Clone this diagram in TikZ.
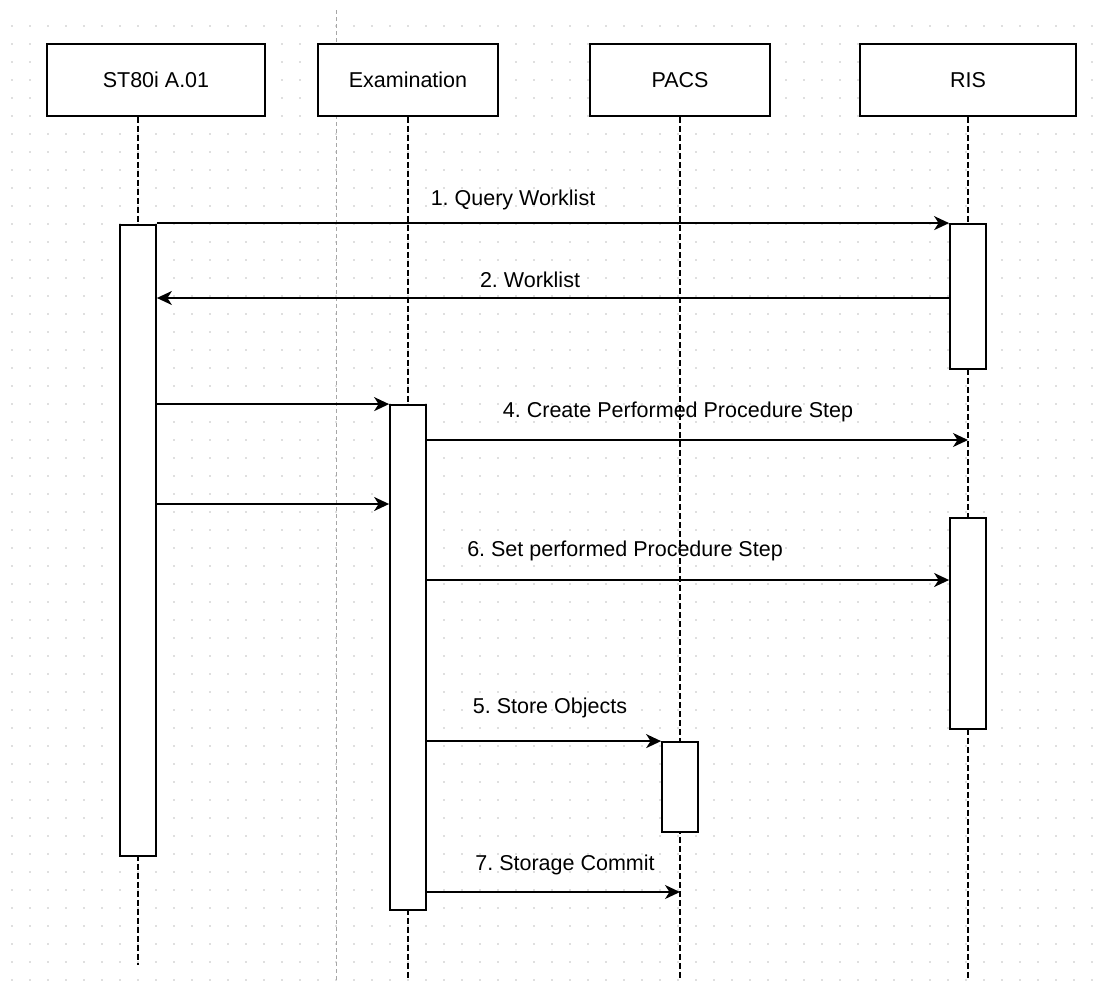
\documentclass[tikz,border=0pt]{standalone}
\usepackage{fontspec}
\setmainfont{Liberation Sans}
\usetikzlibrary{arrows.meta}
\pgfdeclarelayer{background}
\pgfsetlayers{background,main}
\tikzset{
  head/.style={draw, fill=white, line width=1.8pt, minimum height=72pt, inner sep=0pt, font=\fontsize{21.5}{25}\selectfont},
  bar/.style={draw, fill=white, line width=1.8pt, minimum width=36pt, inner sep=0pt},
  life/.style={line width=1.6pt, dash pattern=on 6pt off 3pt},
  msg/.style={line width=1.8pt, -{Stealth[length=15pt, width=14pt, inset=4.5pt]}},
  lbl/.style={font=\fontsize{21.5}{25}\selectfont, inner sep=0pt}
}
\frenchspacing

\begin{document}
\begin{tikzpicture}[x=1pt, y=-1pt]
  \useasboundingbox (0,0) rectangle (1110,980);

  \coordinate (bottom) at (0,980);
  \coordinate (stEnd) at (0,965);

  % Participants
  \node[head, minimum width=218pt] (st)   at (156,80) {ST80i A.01};
  \node[head, minimum width=180pt] (exam) at (408,80) {Examination};
  \node[head, minimum width=180pt] (pacs) at (680,80) {PACS};
  \node[head, minimum width=216pt] (ris)  at (968,80) {RIS};

  % Activation bars
  \node[bar, minimum height=631pt] (stBar)   at (138,540.5) {};
  \node[bar, minimum height=145pt] (risBarA) at (968,296.5) {};
  \node[bar, minimum height=505pt] (exBar)   at (408,657.5) {};
  \node[bar, minimum height=211pt] (risBarB) at (968,623.5) {};
  \node[bar, minimum height=90pt]  (pacsBar) at (680,787) {};

  \begin{pgfonlayer}{background}
    % Grid dots
    \foreach \gx in {12,30,...,1100}
      \foreach \gy in {26,44,...,980}
        \fill[black!25] (\gx,\gy) circle (0.8pt);

    % Page break line
    \draw[black!35, line width=0.8pt, dash pattern=on 4pt off 3pt] (336,10) -- (336,980);

    % Lifelines
    \draw[life] (stBar.north |- st.south) -- (stBar.south |- stEnd);
    \draw[life] (exam.south) -- (exam.south |- bottom);
    \draw[life] (pacs.south) -- (pacs.south |- bottom);
    \draw[life] (ris.south) -- (ris.south |- bottom);
  \end{pgfonlayer}

  % Message rows
  \coordinate (r2) at (0,298);
  \coordinate (r4) at (0,440);
  \coordinate (r5) at (0,504);
  \coordinate (r6) at (0,580);
  \coordinate (r8) at (0,892);

  % Messages
  \draw[msg] (stBar.east |- risBarA.north) -- (risBarA.north west);
  \draw[msg] (risBarA.west |- r2) -- (stBar.east |- r2);
  \draw[msg] (stBar.east |- exBar.north) -- (exBar.north west);
  \draw[msg] (exBar.east |- r4) -- (ris.south |- r4);
  \draw[msg] (stBar.east |- r5) -- (exBar.west |- r5);
  \draw[msg] (exBar.east |- r6) -- (risBarB.west |- r6);
  \draw[msg] (exBar.east |- pacsBar.north) -- (pacsBar.north west);
  \draw[msg] (exBar.east |- r8) -- (pacs.south |- r8);

  % Labels
  \node[lbl] (l1) at (513,200) {1. Query Worklist};
  \node[lbl] (l2) at (530,280) {2. Worklist};
  \node[lbl] (l4) at (678,412) {4. Create Performed Procedure Step};
  \node[lbl] (l6) at (625,551) {6. Set performed Procedure Step};
  \node[lbl] (l5) at (550,708) {5. Store Objects};
  \node[lbl] (l7) at (565,865) {7. Storage Commit};
\end{tikzpicture}
\end{document}
